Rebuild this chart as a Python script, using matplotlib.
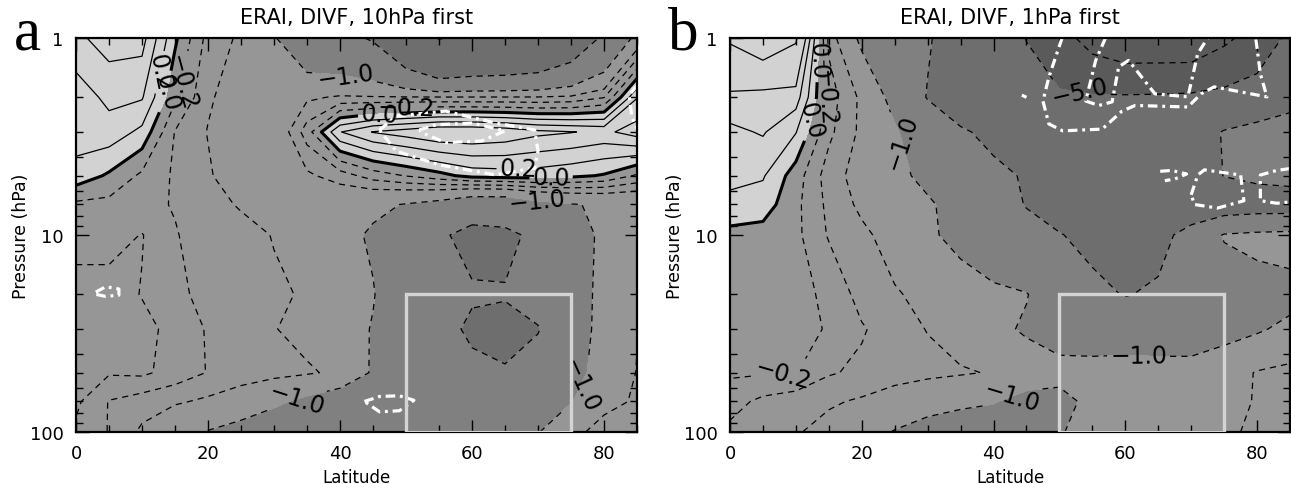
"""
plot.py - ERA-Interim DIVF latitude/pressure sections (two panels).

Field values are read by eye from the reference figure on the ERA-I
pressure levels and a 5 degree latitude grid.
Output: out.png
"""

import matplotlib

matplotlib.use("Agg")
import matplotlib.pyplot as plt
import numpy as np
from matplotlib.patches import Rectangle
from matplotlib.ticker import FixedLocator

LATS = [0, 5, 10, 15, 20, 25, 30, 35, 40, 45, 50, 55, 60, 65, 70, 75, 80, 85]
PRESSURE = [1, 2, 3, 5, 7, 10, 20, 30, 50, 70, 100]

# panel a: "10hPa first"  (rows = PRESSURE, cols = LATS)
DIVF_10HPA_FIRST = [
    [0.55, 0.7, 0.68, 0.04, -0.47, -0.64, -0.96, -1.5, -1.7, -2.1, -3.5, -5.1, -4.6, -4.4, -4.0, -3.0, -1.8, -0.84],
    [0.29, 0.45, 0.42, -0.16, -0.57, -0.72, -0.8, -0.64, -0.57, -0.58, -0.58, -0.58, -0.58, -0.58, -0.58, -0.55, -0.41, 0.39],
    [0.3, 0.32, 0.15, -0.41, -0.61, -0.76, -0.84, -0.3, 0.39, 0.61, 0.7, 0.8, 0.8, 0.75, 0.65, 0.61, 0.55, 0.7],
    [0.12, -0.03, -0.24, -0.43, -0.57, -0.76, -0.8, -0.64, -0.5, -0.31, -0.19, -0.07, 0.07, 0.1, 0.1, 0.05, -0.02, -0.23],
    [-0.24, -0.26, -0.36, -0.41, -0.53, -0.62, -0.68, -0.76, -0.84, -0.92, -1.02, -1.15, -1.4, -1.4, -1.15, -1.02, -0.96, -0.92],
    [-0.3, -0.3, -0.19, -0.39, -0.47, -0.53, -0.61, -0.72, -0.88, -1.05, -1.3, -1.85, -2.3, -2.2, -1.8, -1.2, -0.92, -0.76],
    [-0.1, -0.1, -0.21, -0.36, -0.45, -0.51, -0.57, -0.62, -0.8, -0.98, -1.3, -1.6, -1.9, -1.95, -1.6, -1.15, -0.92, -0.62],
    [-0.1, -0.1, -0.14, -0.26, -0.42, -0.5, -0.59, -0.68, -0.84, -1.02, -1.35, -1.7, -2.15, -2.2, -2.05, -1.2, -0.88, -0.61],
    [-0.16, -0.18, -0.16, -0.28, -0.41, -0.47, -0.52, -0.57, -0.65, -1.05, -1.3, -1.5, -1.8, -1.95, -1.6, -1.15, -0.84, -0.59],
    [-0.16, -0.41, -0.5, -0.57, -0.64, -0.76, -0.92, -1.1, -1.3, -1.4, -1.5, -1.55, -1.6, -1.5, -1.3, -1.02, -0.68, -0.57],
    [-0.24, -0.41, -0.64, -0.84, -1.02, -1.15, -1.3, -1.4, -1.5, -1.55, -1.6, -1.6, -1.55, -1.3, -1.02, -0.68, -0.5, -0.47],
]

# panel b: "1hPa first"
DIVF_1HPA_FIRST = [
    [1.05, 1.3, 1.05, -0.45, -1.1, -1.4, -1.9, -2.6, -3.5, -5.05, -8.0, -12.0, -14.0, -14.0, -14.0, -11.0, -8.0, -4.0],
    [0.55, 0.5, 0.5, -0.3, -0.65, -1.15, -2.05, -2.8, -3.6, -4.3, -4.5, -4.6, -4.6, -4.5, -4.3, -3.8, -3.0, -2.4],
    [0.35, 0.42, 0.21, -0.35, -0.65, -0.95, -1.3, -1.85, -2.3, -2.6, -3.0, -3.3, -3.4, -3.3, -2.8, -1.9, -1.6, -1.5],
    [0.28, 0.22, -0.1, -0.5, -0.7, -0.9, -1.1, -1.4, -1.75, -2.1, -2.5, -2.8, -2.9, -2.9, -2.5, -1.98, -1.8, -1.7],
    [0.12, 0.1, -0.15, -0.45, -0.65, -0.8, -0.95, -1.15, -1.5, -2.05, -2.5, -2.8, -3.0, -3.0, -2.8, -2.6, -2.5, -2.5],
    [-0.05, -0.08, -0.15, -0.42, -0.55, -0.7, -0.92, -1.15, -1.4, -1.65, -1.95, -2.3, -2.5, -2.35, -1.6, -0.95, -0.85, -0.8],
    [-0.08, -0.1, -0.14, -0.24, -0.48, -0.58, -0.66, -0.78, -0.9, -0.98, -1.3, -1.75, -2.05, -1.85, -1.5, -1.35, -1.2, -1.15],
    [-0.06, -0.08, -0.12, -0.22, -0.38, -0.5, -0.61, -0.75, -0.9, -1.05, -1.15, -1.25, -1.3, -1.3, -1.25, -1.15, -1.05, -0.9],
    [-0.17, -0.18, -0.19, -0.38, -0.44, -0.48, -0.53, -0.57, -0.62, -0.8, -0.9, -0.85, -0.8, -0.82, -0.85, -0.75, -0.58, -0.52],
    [-0.32, -0.45, -0.52, -0.57, -0.63, -0.75, -0.85, -0.93, -0.98, -1.12, -1.1, -0.92, -0.85, -0.8, -0.75, -0.7, -0.58, -0.52],
    [-0.45, -0.52, -0.58, -0.68, -0.85, -1.02, -1.15, -1.2, -1.2, -1.15, -1.02, -0.9, -0.85, -0.8, -0.72, -0.65, -0.55, -0.5],
]

FILL_LEVELS = [-100, -5, -2, -1, 0, 100]
FILL_COLORS = ["#5a5a5a", "#6e6e6e", "#808080", "#969696", "#d2d2d2"]
NEG_LEVELS = [-10, -5, -2, -1, -0.6, -0.4, -0.2]
POS_LEVELS = [0.2, 0.4, 0.6, 1, 2, 5]

BOX_LAT = [50, 75]
BOX_P = [20, 100]

# white dash-dot outlines (lat, hPa)
WHITE_A = [
    ([46, 48.5, 56, 63.5, 69.5, 70, 69.5, 63.5, 55, 48.5, 46],
     [2.93, 2.49, 2.35, 2.7, 2.93, 3.75, 4.57, 4.95, 4.4, 3.75, 2.93]),
    ([52, 54.5, 60, 65, 61.5, 56, 52.5, 52],
     [2.93, 2.76, 2.7, 2.96, 3.33, 3.4, 3.03, 2.93]),
    ([85, 83.8, 84.2, 85], [1.75, 1.95, 2.5, 2.9]),
    ([3, 4.5, 6.5, 6.5, 4.5, 3, 3], [19.5, 18.3, 18.8, 20.2, 20.5, 20, 19.5]),
    ([43.7, 46, 49, 51.2, 49, 46, 43.7], [70, 66, 65.5, 69, 78, 79, 70]),
]
WHITE_B = [
    ([50.4, 48.4, 47.5, 48.4, 50.5, 56.5, 59.5, 61.5, 69.5, 71.5, 73.5, 81.5, 80.5, 79.8],
     [1, 1.58, 2.09, 2.73, 2.96, 2.9, 2.35, 2.2, 2.24, 1.92, 1.77, 1.99, 1.52, 1]),
    ([57, 55.5, 54, 56, 58, 59, 60.5, 64.5, 69.5, 71, 72.5],
     [1, 1.3, 2.09, 2.2, 2.11, 1.4, 1.3, 1.92, 1.99, 1.2, 1.0]),
    ([65.3, 67, 69.3, 67.5, 66], [4.75, 4.7, 4.9, 5.2, 5.3]),
    ([70, 71, 72, 77.5, 78, 74, 70.5, 70], [6.25, 4.96, 4.67, 4.96, 6.7, 7.3, 7.0, 6.25]),
    ([85, 83, 80.5, 80.5, 83, 85], [4.6, 4.7, 4.96, 6.7, 6.9, 6.8]),
    ([44.3, 45], [1.95, 2.0]),
]

# contour labels: (level, lat, hPa)
LABELS_A = [
    (0.2, 13.0, 1.5), (0, 14.5, 1.9), (-0.2, 17.0, 1.7),
    (-1, 41.0, 1.5), (0, 46.0, 2.4), (-0.2, 50.0, 2.2),
    (0, 72.0, 5.2), (0.2, 67.0, 4.6), (-1, 70.0, 6.3),
    (-1, 34.0, 80.0), (-1, 77.5, 60.0),
]
LABELS_B = [
    (0, 13.0, 1.3), (-0.2, 14.5, 2.0), (0, 12.0, 2.6),
    (-1, 24.0, 3.5), (-5, 53.0, 1.9),
    (-0.2, 8.0, 56.0), (-1, 43.0, 68.0), (-1, 62.0, 42.0),
]

TITLES = ["ERAI, DIVF, 10hPa first", "ERAI, DIVF, 1hPa first"]
LETTERS = ["a", "b"]


def fmt_level(v):
    return f"{v:.1f}".replace("-", "\u2212")


def draw_panel(ax, field, white_paths, labels, title):
    x = np.array(LATS, dtype=float)
    y = np.log10(np.array(PRESSURE, dtype=float))
    z = np.array(field, dtype=float)

    ax.contourf(x, y, z, levels=FILL_LEVELS, colors=FILL_COLORS)

    # one contour set per level so each can be labelled on its own
    line_sets = {}
    for lev in NEG_LEVELS + [0] + POS_LEVELS:
        if not (z.min() < lev < z.max()):
            continue
        if lev < 0:
            style, lw = (0, (5, 4)), 0.9
        elif lev == 0:
            style, lw = "solid", 2.2
        else:
            style, lw = "solid", 0.9
        line_sets[lev] = ax.contour(x, y, z, levels=[lev], colors="k",
                                    linewidths=lw, linestyles=[style])

    for lev, lat, p in labels:
        if lev not in line_sets:
            continue
        line_sets[lev].clabel(manual=[(lat, np.log10(p))], fmt=fmt_level,
                              inline=True, inline_spacing=3, fontsize=17,
                              colors="k")

    for lat_pts, p_pts in white_paths:
        ax.plot(lat_pts, np.log10(p_pts), color="white", lw=2.3,
                linestyle=(0, (3, 1.5, 0.9, 1.5)), solid_capstyle="butt")

    y0, y1 = np.log10(BOX_P)
    ax.add_patch(Rectangle((BOX_LAT[0], y0), BOX_LAT[1] - BOX_LAT[0], y1 - y0,
                           fill=False, ec="#d4d4d4", lw=2.4, zorder=5))

    ax.set_xlim(0, 85)
    ax.set_ylim(2, 0)
    ax.xaxis.set_major_locator(FixedLocator([0, 20, 40, 60, 80]))
    ax.xaxis.set_minor_locator(FixedLocator(list(range(0, 86, 5))))
    ax.yaxis.set_major_locator(FixedLocator([0, 1, 2]))
    minor_p = [2, 3, 4, 5, 6, 7, 8, 9, 20, 30, 40, 50, 60, 70, 80, 90]
    ax.yaxis.set_minor_locator(FixedLocator(np.log10(minor_p)))
    ax.set_yticklabels(["1", "10", "100"])
    ax.tick_params(which="both", direction="in", top=True, right=True,
                   labelsize=13, width=1.0, pad=9)
    ax.tick_params(which="major", length=9)
    ax.tick_params(which="minor", length=5)
    for s in ax.spines.values():
        s.set_linewidth(1.6)
    ax.set_xlabel("Latitude", fontsize=12)
    ax.set_ylabel("Pressure (hPa)", fontsize=12.5)
    ax.xaxis.set_label_coords(0.5, -0.092)
    ax.yaxis.set_label_coords(-0.082, 0.5)
    ax.set_title(title, fontsize=15, pad=11)


def main():
    fig = plt.figure(figsize=(12.91, 4.85), dpi=100)
    ax_a = fig.add_axes([76 / 1291, 52 / 485, 561 / 1291, 394 / 485])
    ax_b = fig.add_axes([730 / 1291, 52 / 485, 560 / 1291, 394 / 485])

    draw_panel(ax_a, DIVF_10HPA_FIRST, WHITE_A, LABELS_A, TITLES[0])
    draw_panel(ax_b, DIVF_1HPA_FIRST, WHITE_B, LABELS_B, TITLES[1])

    for ax, letter in zip([ax_a, ax_b], LETTERS):
        pos = ax.get_position()
        fig.text(pos.x0 - 62 / 1291, 435 / 485, letter, fontsize=44,
                 family="Liberation Serif", va="baseline", ha="left")

    fig.savefig("out.png", dpi=100)
    plt.close(fig)


if __name__ == "__main__":
    main()
